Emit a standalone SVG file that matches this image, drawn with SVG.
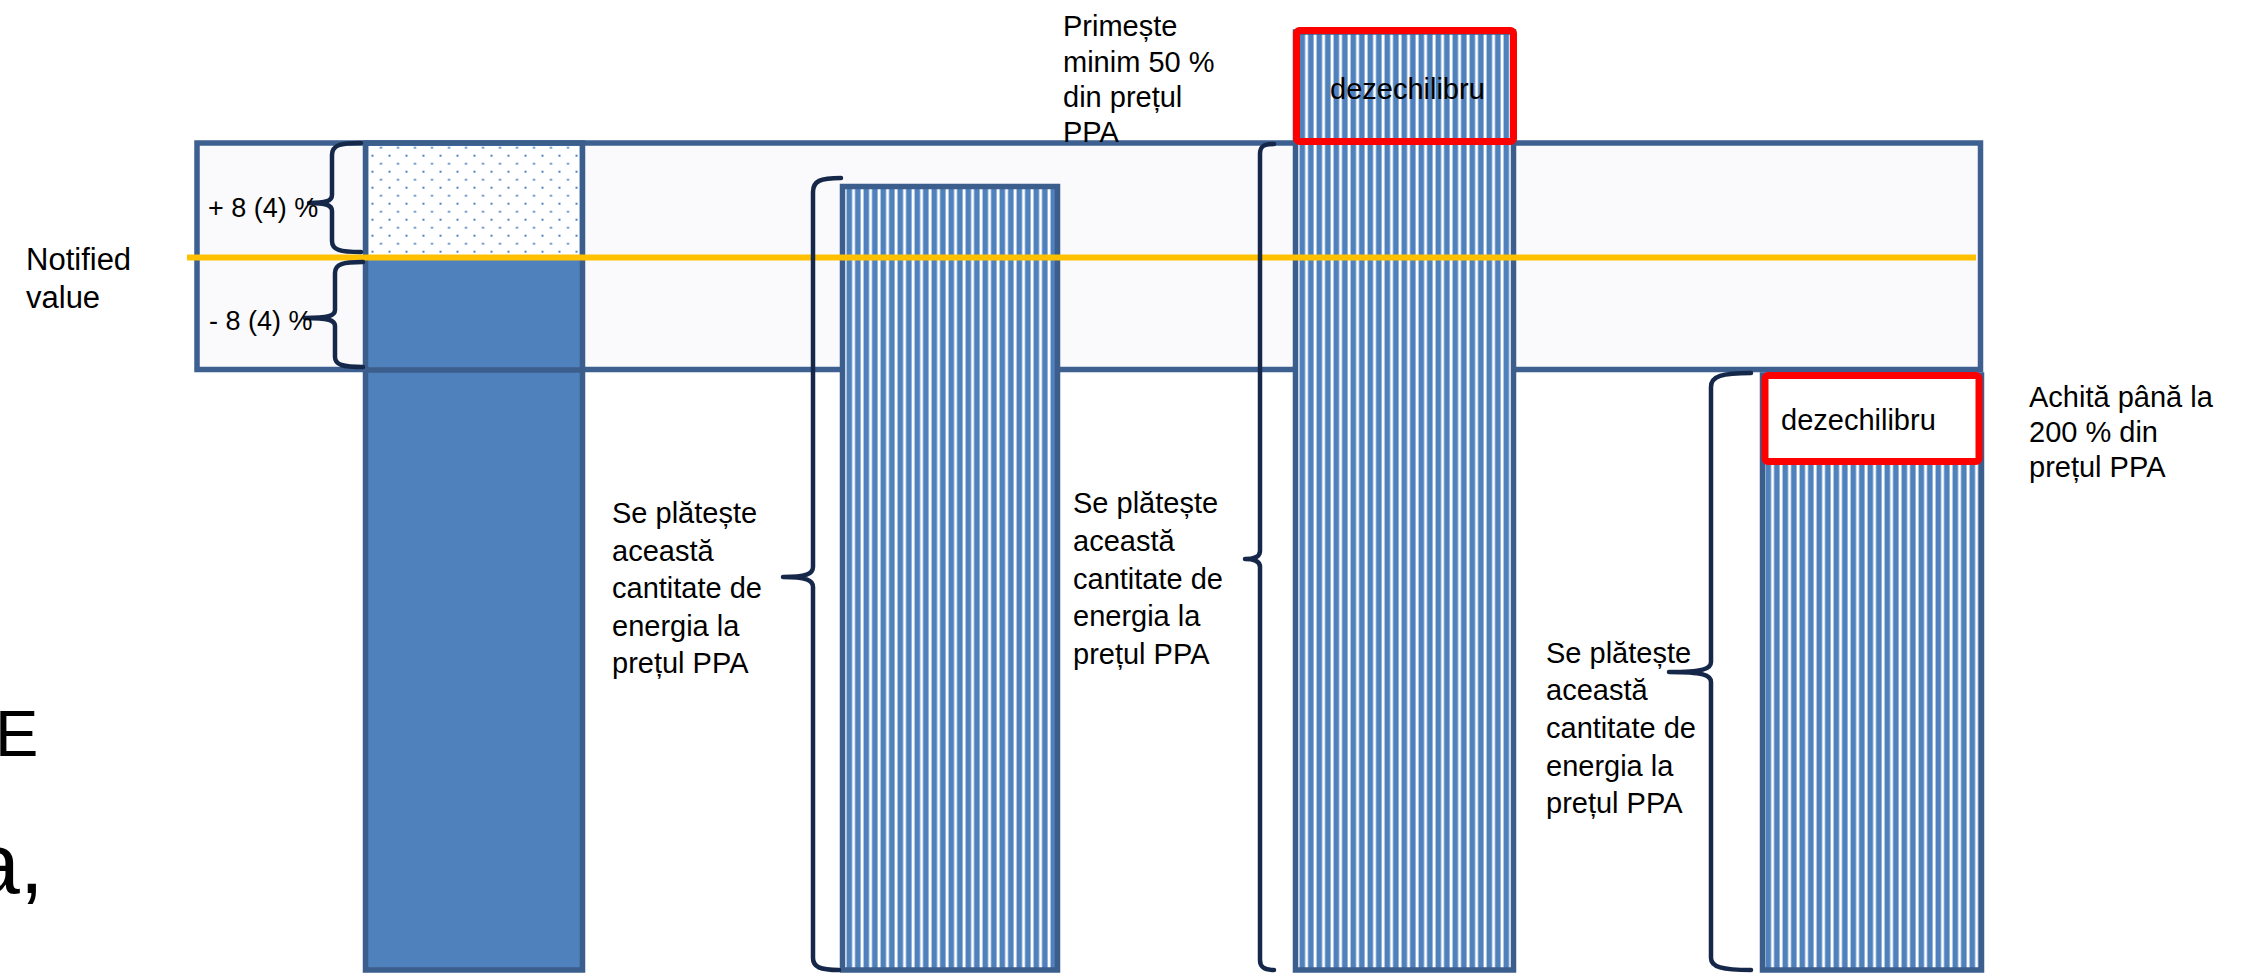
<svg xmlns="http://www.w3.org/2000/svg" width="2259" height="973" viewBox="0 0 2259 973">
  <style>
    text { font-family: "Liberation Sans", Arial, sans-serif; fill: #000; }
    .lbl { font-size: 29px; }
    .bar { stroke: #3B5E8C; stroke-width: 5.5; }
    .brace { fill: none; stroke: #15284A; stroke-width: 4.5; stroke-linecap: round; stroke-linejoin: round; }
    .red { fill: none; stroke: #FF0000; stroke-width: 7; }
  </style>
  <defs>
    <pattern id="stripes2" patternUnits="userSpaceOnUse" x="844" y="0" width="8.5" height="10">
      <rect width="8.5" height="10" fill="#FFFFFF"/>
      <rect x="2.5" width="5.6" height="10" fill="#4F81BD"/>
    </pattern>
    <pattern id="stripes3" patternUnits="userSpaceOnUse" x="1297" y="0" width="8.5" height="10">
      <rect width="8.5" height="10" fill="#FFFFFF"/>
      <rect x="2.5" width="5.6" height="10" fill="#4F81BD"/>
    </pattern>
    <pattern id="stripes4" patternUnits="userSpaceOnUse" x="1763" y="0" width="8.5" height="10">
      <rect width="8.5" height="10" fill="#FFFFFF"/>
      <rect x="2.5" width="5.6" height="10" fill="#4F81BD"/>
    </pattern>
    <pattern id="dots" patternUnits="userSpaceOnUse" x="371.5" y="146.7" width="17" height="16">
      <rect width="17" height="16" fill="#FFFFFF"/>
      <rect x="0" y="8" width="2" height="2" fill="#4F81BD"/>
      <rect x="8.5" y="0" width="2" height="2" fill="#4F81BD"/>
    </pattern>
  </defs>

  <rect width="2259" height="973" fill="#FFFFFF"/>

  <!-- background fragments -->
  <g id="fragments">
    <text x="-5" y="756" font-size="65">E</text>
    <text x="-28" y="893" font-size="86">a,</text>
  </g>

  <!-- tolerance band -->
  <g id="band">
    <rect x="197" y="143" width="1783.5" height="226.5" fill="#FAFAFC" stroke="#3D6090" stroke-width="5.5"/>
  </g>

  <g id="bar1">
    <rect class="bar" x="365.5" y="143" width="217" height="827" fill="#4F81BD"/>
    <rect x="368.5" y="146" width="211" height="109" fill="url(#dots)"/>
    <line x1="363" y1="370" x2="585" y2="370" stroke="#3B5E8C" stroke-width="5.5"/>
  </g>

  <g id="bar2">
    <rect class="bar" x="842.5" y="186.5" width="215" height="783.5" fill="url(#stripes2)"/>
  </g>

  <g id="bar3">
    <rect class="bar" x="1295.5" y="32" width="218" height="938" fill="url(#stripes3)"/>
  </g>

  <g id="bar4">
    <rect class="bar" x="1762.5" y="375" width="219" height="595" fill="url(#stripes4)"/>
  </g>

  <g id="imbalance1">
    <rect class="red" x="1296.5" y="30.5" width="217" height="111" rx="3"/>
    <text class="lbl" x="1330" y="99">dezechilibru</text>
  </g>

  <g id="imbalance2">
    <rect class="red" x="1765" y="375.5" width="214" height="86" rx="3" style="fill:#FFFFFF"/>
    <text class="lbl" x="1781" y="430">dezechilibru</text>
  </g>

  <!-- connectors: notified value line and braces -->
  <g id="connectors">
    <line x1="187" y1="257.5" x2="1976" y2="257.5" stroke="#FFC000" stroke-width="6"/>
    <path class="brace" d="M 361 143 C 340 143 332 145 332 155 L 332 195 C 332 201 326 203 309 203 C 326 203 332 205 332 211 L 332 241 C 332 250 340 252 361 252"/>
    <path class="brace" d="M 363 262 C 343 262 335 264 335 273 L 335 310 C 335 316 328 318 305 318 C 328 318 335 320 335 326 L 335 357 C 335 365 343 367 363 367"/>
    <path class="brace" d="M 841 178 C 820 178 813 181 813 192 L 813 567 C 813 574 806 577 783 577 C 806 577 813 580 813 587 L 813 958 C 813 967 820 970 839 970"/>
    <path class="brace" d="M 1274 144 C 1264 144 1260 146 1260 154 L 1260 551 C 1260 556 1256 559 1245 559 C 1256 559 1260 562 1260 567 L 1260 960 C 1260 967 1264 970 1274 970"/>
    <path class="brace" d="M 1751 373 C 1722 373 1711 376 1711 387 L 1711 662 C 1711 669 1703 672 1669 672 C 1703 672 1711 675 1711 682 L 1711 958 C 1711 967 1722 970 1751 970"/>
  </g>

  <g id="labels">
    <text font-size="31" x="26" y="270">Notified</text>
    <text font-size="31" x="26" y="308">value</text>
    <text font-size="27" x="208" y="217">+ 8 (4) %</text>
    <text font-size="27" x="209" y="330">- 8 (4) %</text>

    <text class="lbl"><tspan x="1063" y="36">Primește</tspan><tspan x="1063" y="72">minim 50 %</tspan><tspan x="1063" y="107">din prețul</tspan><tspan x="1063" y="142">PPA</tspan></text>

    <text class="lbl"><tspan x="612" y="523">Se plătește</tspan><tspan x="612" y="561">această</tspan><tspan x="612" y="598">cantitate de</tspan><tspan x="612" y="636">energia la</tspan><tspan x="612" y="673">prețul PPA</tspan></text>

    <text class="lbl"><tspan x="1073" y="513">Se plătește</tspan><tspan x="1073" y="551">această</tspan><tspan x="1073" y="589">cantitate de</tspan><tspan x="1073" y="626">energia la</tspan><tspan x="1073" y="664">prețul PPA</tspan></text>

    <text class="lbl"><tspan x="1546" y="663">Se plătește</tspan><tspan x="1546" y="700">această</tspan><tspan x="1546" y="738">cantitate de</tspan><tspan x="1546" y="776">energia la</tspan><tspan x="1546" y="813">prețul PPA</tspan></text>

    <text class="lbl"><tspan x="2029" y="407">Achită până la</tspan><tspan x="2029" y="442">200 % din</tspan><tspan x="2029" y="477">prețul PPA</tspan></text>
  </g>
</svg>
